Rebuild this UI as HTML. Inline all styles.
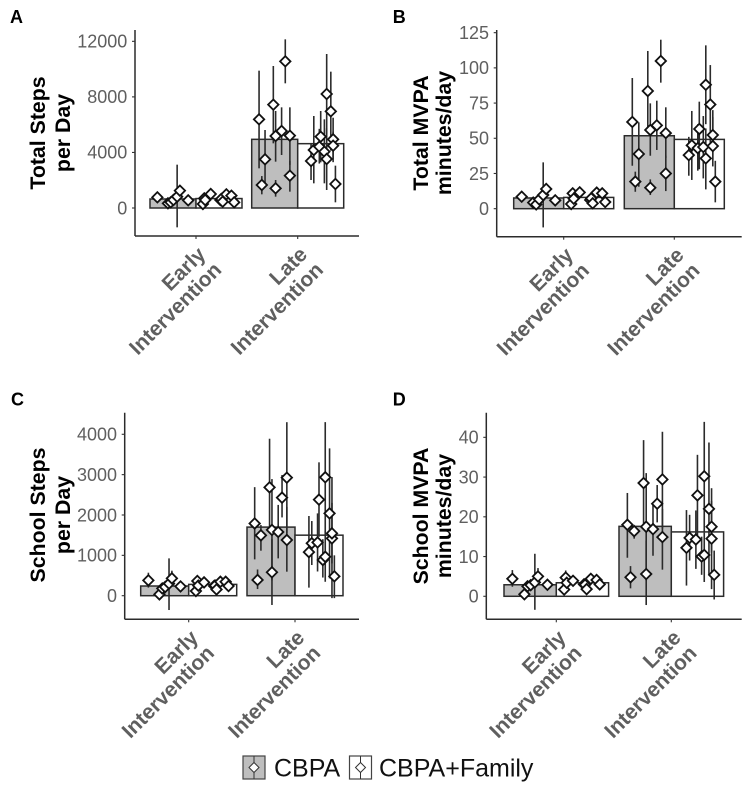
<!DOCTYPE html>
<html>
<head>
<meta charset="utf-8">
<title>Steps and MVPA by intervention timing</title>
<style>
html,body{margin:0;padding:0;background:#fff;width:753px;height:794px;overflow:hidden}
svg{display:block;font-family:"Liberation Sans",sans-serif;filter:blur(0.35px)}
.ttl{font-size:21.3px;font-weight:bold;fill:#000;text-anchor:middle}
.lett{font-size:18px;font-weight:bold;fill:#000}
.tick{font-size:18px;fill:#5f5f5f;text-anchor:end}
.cat{font-size:21px;font-weight:bold;fill:#5f5f5f;text-anchor:end}
.leg{font-size:25px;fill:#111}
</style>
</head>
<body>
<svg id="chart" width="753" height="794" viewBox="0 0 753 794">
  <text class="lett" x="10" y="23">A</text>
  <text class="lett" x="392.7" y="23">B</text>
  <text class="lett" x="11" y="405.7">C</text>
  <text class="lett" x="392.7" y="405.7">D</text>

  <text class="ttl" transform="translate(45,133) rotate(-90)">Total Steps</text>
  <text class="ttl" transform="translate(70,133) rotate(-90)">per Day</text>
  <text class="ttl" transform="translate(428,133) rotate(-90)">Total MVPA</text>
  <text class="ttl" transform="translate(451,133) rotate(-90)">minutes/day</text>
  <text class="ttl" transform="translate(45,515) rotate(-90)">School Steps</text>
  <text class="ttl" transform="translate(70,515) rotate(-90)">per Day</text>
  <text class="ttl" transform="translate(428,516) rotate(-90)">School MVPA</text>
  <text class="ttl" transform="translate(451,516) rotate(-90)">minutes/day</text>

  <g>
    <g>
      <rect x="243" y="756" width="22" height="23" fill="#bebebe" stroke="#444" stroke-width="1.2"/>
      <line x1="254" y1="756" x2="254" y2="779" stroke="#333" stroke-width="1"/>
      <polygon points="254,762.5 259,767.5 254,772.5 249,767.5" fill="#fff" stroke="#333" stroke-width="1"/>
      <text class="leg" x="274" y="776.5">CBPA</text>
    </g>
    <g>
      <rect x="349.5" y="756" width="22" height="23" fill="#fff" stroke="#444" stroke-width="1.2"/>
      <line x1="360.5" y1="756" x2="360.5" y2="779" stroke="#333" stroke-width="1"/>
      <polygon points="360.5,762.5 365.5,767.5 360.5,772.5 355.5,767.5" fill="#fff" stroke="#333" stroke-width="1"/>
      <text class="leg" x="379" y="776.5">CBPA+Family</text>
    </g>
  </g>
</svg>
<script>
// Categories and series
const categories = [['Early', 'Intervention'], ['Late', 'Intervention']];
const seriesKeys = ['cbpa', 'family'];

// Participant jitter, in bar widths from the category centre
// Groups: early CBPA, early CBPA+Family, late CBPA, late CBPA+Family
const jitter = [
  [-.84, -.61, -.55, -.49, -.41, -.35, -.17],
  [.15, .18, .2, .32, .53, .55, .58, .66, .77, .83],
  [-.84, -.78, -.71, -.53, -.48, -.48, -.35, -.27, -.17, -.17],
  [.29, .35, .47, .5, .58, .63, .63, .72, .77, .77, .82]
];

// Panel A: total steps per day
const aTicks = [0, 4000, 8000, 12000];
const aMeans = [[648, 680], [4944, 4632]];
const aValues = [
  [768, 336, 408, 576, 816, 1248, 552],
  [288, 696, 576, 1008, 576, 648, 456, 984, 888, 408],
  [6384, 1656, 3504, 7440, 5184, 1416, 5544, 10560, 5208, 2328],
  [3384, 4176, 4416, 5136, 4056, 8208, 3528, 6960, 4944, 4488, 1728]
];
const aLow = [
  [500, 100, 150, 300, -1392, 900, 350],
  [100, 450, 350, 750, 300, 400, 250, 700, 650, 200],
  [2856, 984, 1500, 4656, 3336, 816, 3816, 8976, 3100, 1176],
  [2016, 1776, 3200, 3288, 1776, 5328, 1296, 4128, 3500, 3300, 408]
];
const aHigh = [
  [1000, 600, 700, 850, 3120, 1550, 750],
  [480, 950, 800, 1280, 850, 900, 680, 1280, 1150, 620],
  [9888, 2300, 5616, 10224, 6984, 2016, 7248, 12144, 7248, 3400],
  [4656, 6624, 5700, 6984, 6384, 11088, 5736, 9816, 6500, 5500, 3048]
];

// Panel B: total MVPA minutes per day
const bTicks = [0, 25, 50, 75, 100, 125];
const bMeans = [[7.6, 8], [51.8, 49.2]];
const bValues = [
  [8.5, 4.3, 3, 6.6, 9.7, 14, 5.9],
  [3.3, 10.9, 7.1, 11.6, 6.2, 7.3, 3.8, 11.4, 10.9, 4.7],
  [61.6, 19.2, 38.8, 83.6, 55.9, 14.9, 59.2, 104.9, 53.7, 25],
  [38, 45, 43, 56.6, 43.8, 88, 35.7, 74, 52.3, 44.5, 19.2]
];
const bLow = [
  [6, 2, 1, 4, -13.3, 11, 3.5],
  [1, 8, 5, 9, 4, 5, 1.5, 8, 8, 2.5],
  [30.5, 12, 15.6, 58, 37.6, 9.7, 41.7, 89.5, 36, 12.5],
  [23.4, 20.4, 27, 28, 21.5, 60, 13.7, 46, 34.6, 30, 4.5]
];
const bHigh = [
  [11, 7, 5, 9, 32.9, 17, 8.5],
  [5.5, 14, 9.5, 14.5, 8.5, 10, 6, 14, 14, 7],
  [92.8, 26.3, 61.3, 112, 74.8, 20.8, 76.7, 120, 72, 37.6],
  [51, 69.4, 60, 76, 65.8, 116, 57, 102, 70, 65, 34]
];

// Panel C: school steps per day
const cTicks = [0, 1000, 2000, 3000, 4000];
const cMeans = [[240, 280], [1700, 1500]];
const cValues = [
  [380, 33, 180, 215, 300, 430, 230],
  [115, 365, 250, 330, 240, 250, 155, 345, 345, 240],
  [1790, 390, 1495, 2685, 1630, 580, 1580, 2430, 2925, 1380],
  [1080, 1300, 1320, 2380, 885, 965, 2935, 2040, 1420, 1545, 480]
];
const cLow = [
  [200, -20, 90, 120, -355, 280, 130],
  [40, 270, 150, 230, 150, 160, 70, 250, 250, 150],
  [900, 165, 1115, 1670, 380, -230, 925, 1940, 1550, 595],
  [200, 760, 600, 1460, 450, 345, 1560, 430, -60, 800, -60]
];
const cHigh = [
  [570, 100, 280, 320, 925, 620, 330],
  [200, 470, 350, 430, 340, 400, 250, 440, 440, 330],
  [2690, 650, 1750, 3890, 2890, 1400, 2250, 2990, 4300, 2200],
  [1975, 1850, 2040, 3305, 1400, 1600, 4300, 3650, 2940, 2300, 1000]
];

// Panel D: school MVPA minutes per day
const dTicks = [0, 10, 20, 30, 40];
const dMeans = [[2.9, 3.4], [17.6, 16.2]];
const dValues = [
  [4.4, 0.5, 2.5, 2.8, 3.5, 5, 2.9],
  [1.7, 4.7, 3.4, 3.9, 3, 2.9, 1.8, 4.4, 4.1, 3],
  [18, 4.8, 16.4, 28.5, 17.5, 5.6, 16.9, 23.3, 29.4, 14.9],
  [12.2, 14.7, 14.3, 25.4, 10, 10.4, 30.2, 22, 14.5, 17.5, 5.4]
];
const dLow = [
  [2.4, 0, 1.3, 1.5, -3.4, 3, 1.8],
  [.7, 3, 2, 2.7, 1.8, 1.7, .8, 3, 3, 1.9],
  [9.7, 2, 14.5, 17, 4, -2.2, 10.2, 18.6, 17, 6.7],
  [2.7, 9, 6.9, 15.4, 5.4, 3.6, 16, 5.4, 1.8, 11, -.8]
];
const dHigh = [
  [6.6, 1.5, 3.7, 4, 10.7, 7.1, 4],
  [2.8, 6.5, 4.8, 5.2, 4.2, 4.1, 3, 5.7, 5.3, 4.2],
  [26, 7.6, 17.5, 39.3, 31, 14, 23.5, 28, 41.4, 22],
  [21.7, 20.5, 21.6, 35.6, 15, 16, 43.9, 38.7, 27.2, 24, 11.5]
];

const NS = 'http://www.w3.org/2000/svg';
const root = document.getElementById('chart');

function make(parent, tag, props, text) {
  const el = document.createElementNS(NS, tag);
  for (const k in props) el.setAttribute(k, props[k]);
  if (text !== undefined) el.textContent = text;
  parent.appendChild(el);
  return el;
}

function drawPanel(id, frame, ticks, means, values, low, high) {
  const yScale = v => frame.bottom + (v - frame.yMin) / (frame.yMax - frame.yMin) * (frame.top - frame.bottom);
  const xScale = i => frame.x0 + i * frame.step;
  const group = make(root, 'g', {});
  
  

  // Bars
  means.forEach((pair, c) => {
    pair.forEach((m, s) => {
      const top = yScale(m), base = yScale(0);
      const bar = make(group, 'rect', {
        x: xScale(c) + (s - 1) * frame.barW, y: top, width: frame.barW, height: base - top,
        fill: s === 0 ? '#bebebe' : '#fff', stroke: '#2b2b2b', 'stroke-width': 1.5
      });
      
      
    });
  });

  // Error bars
  values.forEach((vals, g) => {
    const c = g < 2 ? 0 : 1;
    vals.forEach((v, i) => {
      const x = xScale(c) + jitter[g][i] * frame.barW;
      const line = make(group, 'line', {
        x1: x, x2: x, y1: yScale(low[g][i]), y2: yScale(high[g][i]), stroke: '#2b2b2b', 'stroke-width': 1.6
      });
      
      
    });
  });

  // Diamonds
  values.forEach((vals, g) => {
    const c = g < 2 ? 0 : 1;
    vals.forEach((v, i) => {
      const x = xScale(c) + jitter[g][i] * frame.barW;
      const y = yScale(v), r = 5.2;
      const point = make(group, 'polygon', {
        points: [x, y - r, x + r, y, x, y + r, x - r, y].join(' '),
        fill: '#fff', stroke: '#111', 'stroke-width': 1.8
      });
      
      
    });
  });

  // Axes
  const yAxis = make(group, 'line', { x1: frame.left, x2: frame.left, y1: frame.top, y2: frame.bottom, stroke: '#2b2b2b', 'stroke-width': 1.5 });
  
  
  const xAxis = make(group, 'line', { x1: frame.left, x2: frame.right, y1: frame.bottom, y2: frame.bottom, stroke: '#2b2b2b', 'stroke-width': 1.5 });
  
  

  ticks.forEach(t => {
    const y = yScale(t);
    const mark = make(group, 'line', { x1: frame.left - 3, x2: frame.left, y1: y, y2: y, stroke: '#333', 'stroke-width': 1.1 });
    
    
    const label = make(group, 'text', { class: 'tick', x: frame.left - 7.7, y: y + 6.3 }, String(t));
    
    
  });

  categories.forEach((lines, c) => {
    const x = xScale(c);
    const mark = make(group, 'line', { x1: x, x2: x, y1: frame.bottom, y2: frame.bottom + 3, stroke: '#333', 'stroke-width': 1.1 });
    
    
    const first = make(group, 'text', { class: 'cat', transform: 'translate(' + (x + 10.7) + ',' + (frame.bottom + 19.7) + ') rotate(-45)' }, lines[0]);
    
    
    const second = make(group, 'text', { class: 'cat', transform: 'translate(' + (x + 26.7) + ',' + (frame.bottom + 35) + ') rotate(-45)' }, lines[1]);
    
    
  });
}

drawPanel('a', { left: 135, right: 359, top: 30, bottom: 236, yMin: -2016, yMax: 12816, x0: 196, step: 101.7, barW: 46 }, aTicks, aMeans, aValues, aLow, aHigh);
drawPanel('b', { left: 496.7, right: 741.7, top: 30, bottom: 236.7, yMin: -19.9, yMax: 126.9, x0: 563.7, step: 110.6, barW: 50 }, bTicks, bMeans, bValues, bLow, bHigh);
drawPanel('c', { left: 124.7, right: 359, top: 412.7, bottom: 619.3, yMin: -585, yMax: 4535, x0: 188.7, step: 106.3, barW: 48 }, cTicks, cMeans, cValues, cLow, cHigh);
drawPanel('d', { left: 486.3, right: 741.7, top: 412.7, bottom: 619.3, yMin: -5.79, yMax: 46.2, x0: 556.3, step: 115, barW: 52.3 }, dTicks, dMeans, dValues, dLow, dHigh);
</script>
</body>
</html>
